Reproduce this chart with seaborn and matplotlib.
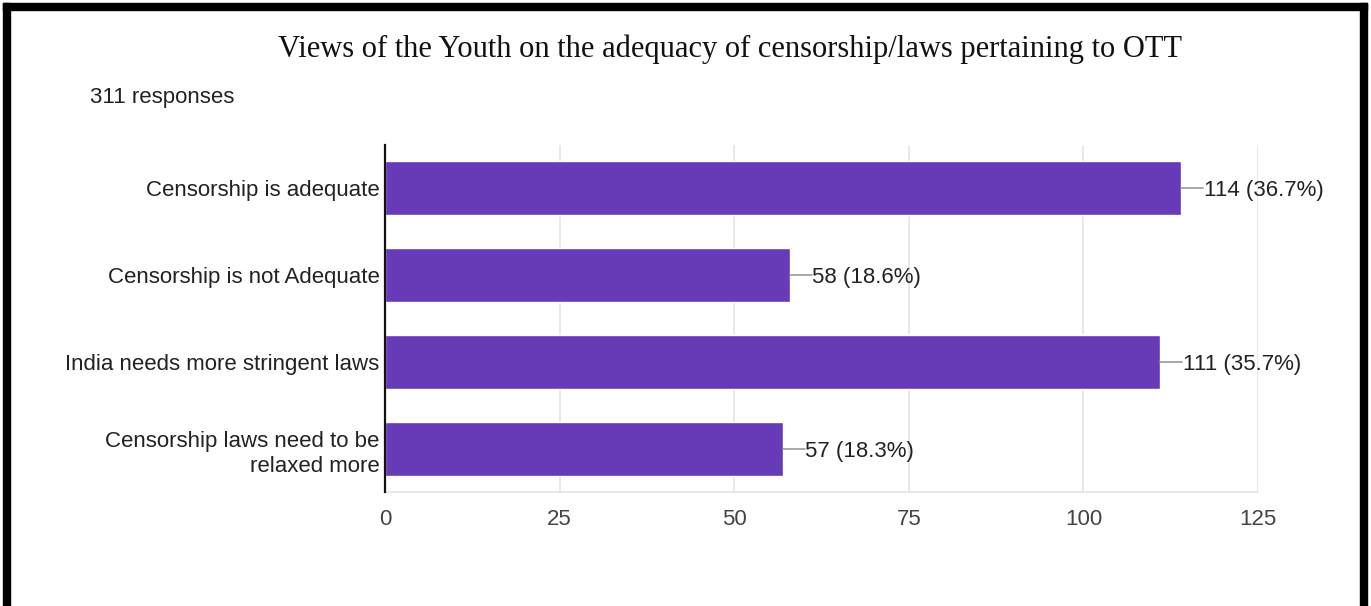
import matplotlib
matplotlib.use("Agg")
import matplotlib.pyplot as plt
import seaborn as sns
import pandas as pd
from matplotlib.patches import Rectangle

categories = [
    "Censorship is adequate",
    "Censorship is not Adequate",
    "India needs more stringent laws",
    "Censorship laws need to be\nrelaxed more",
]
counts = [114, 58, 111, 57]
percents = ["36.7%", "18.6%", "35.7%", "18.3%"]
x_ticks = [0, 25, 50, 75, 100, 125]

title = "Views of the Youth on the adequacy of censorship/laws pertaining to OTT"
subtitle = "311 responses"

df = pd.DataFrame({"category": categories, "count": counts})

sns.set_theme(style="white")
plt.rcParams["font.family"] = ["Liberation Sans", "DejaVu Sans"]

W, H = 1371, 606
fig = plt.figure(figsize=(W / 100, H / 100), dpi=100)
fig.patch.set_facecolor("white")

ax = fig.add_axes([385 / W, 1 - 492 / H, (1258 - 385) / W, (492 - 145) / H])
sns.barplot(data=df, y="category", x="count", orient="h", color="#673ab7",
            saturation=1, width=0.62, ax=ax, zorder=3)
ax.set_xlim(0, 125)
ax.set_xticks(x_ticks)
ax.set_xticklabels([str(t) for t in x_ticks], fontsize=16, color="#444444")
ax.tick_params(axis="x", length=0, pad=12)
ax.tick_params(axis="y", length=0, pad=4)
for lbl in ax.get_yticklabels():
    lbl.set_fontsize(16)
    lbl.set_color("#222222")
    lbl.set_horizontalalignment("right")
    lbl.set_multialignment("right")
    lbl.set_linespacing(1.25)
ax.set_xlabel("")
ax.set_ylabel("")
ax.grid(axis="x", color="#e4e4e4", linewidth=1.2, zorder=0)
for side in ["top", "right"]:
    ax.spines[side].set_visible(False)
ax.spines["left"].set_color("#111111")
ax.spines["left"].set_linewidth(1.6)
ax.spines["left"].set_zorder(5)
ax.spines["bottom"].set_color("#e4e4e4")
ax.spines["bottom"].set_linewidth(1.2)

# value labels with short leader lines
for i, (c, p) in enumerate(zip(counts, percents)):
    ax.plot([c, c + 3.1], [i, i], color="#999999", linewidth=1.2, zorder=4,
            clip_on=False)
    ax.text(c + 3.2, i, f"{c} ({p})", va="center_baseline", ha="left",
            fontsize=16, color="#222222")

fig.text(730 / W, 1 - 49 / H, title, ha="center", va="center",
         fontsize=22, family=["Liberation Serif", "DejaVu Serif"],
         color="#111111")
fig.text(90 / W, 1 - 98 / H, subtitle, ha="left", va="center",
         fontsize=16, color="#222222")

# frame around the figure (left, top, right)
black = "#000000"
fig.add_artist(Rectangle((3 / W, 0), 7 / W, 1 - 3 / H, transform=fig.transFigure,
                         color=black, zorder=10))
fig.add_artist(Rectangle((3 / W, 1 - 10 / H), (1367 - 3) / W, 7 / H,
                         transform=fig.transFigure, color=black, zorder=10))
fig.add_artist(Rectangle((1360 / W, 0), 7 / W, 1 - 3 / H, transform=fig.transFigure,
                         color=black, zorder=10))

fig.savefig("out.png", dpi=100, facecolor="white")
